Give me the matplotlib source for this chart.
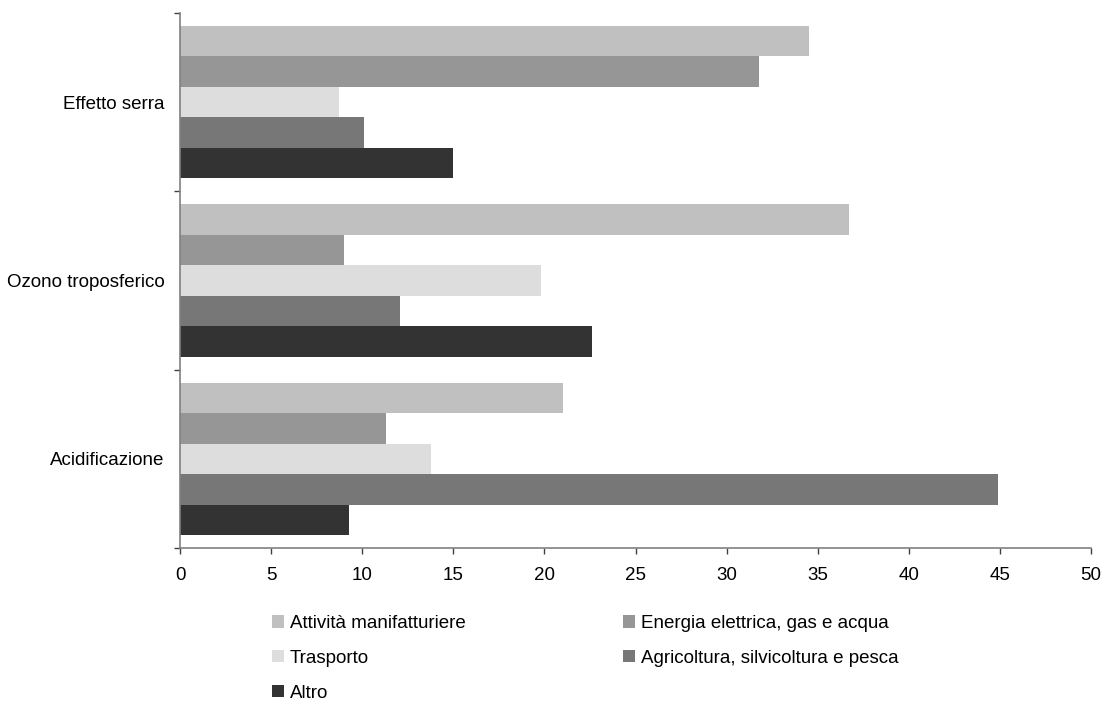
import numpy as np
import matplotlib
matplotlib.use("Agg")
import matplotlib.pyplot as plt

plt.rcParams['font.family'] = ['Liberation Sans', 'DejaVu Sans']

# categories, bottom to top as drawn
categories = ['Acidificazione', 'Ozono troposferico', 'Effetto serra']
series = ['Attività manifatturiere', 'Energia elettrica, gas e acqua',
          'Trasporto', 'Agricoltura, silvicoltura e pesca', 'Altro']
colors = ['#c0c0c0', '#969696', '#dddddd', '#777777', '#333333']

# values per series, same order as categories
attivita = [21.0, 36.7, 34.5]
energia = [11.3, 9.0, 31.8]
trasporto = [13.8, 19.8, 8.7]
agricoltura = [44.9, 12.1, 10.1]
altro = [9.3, 22.6, 15.0]
values = [attivita, energia, trasporto, agricoltura, altro]

xticks = np.arange(0, 51, 5)

fig = plt.figure(figsize=(11.05, 7.04), dpi=100, facecolor='white')
ax = fig.add_axes([180/1105, 1-548/704, (1091-180)/1105, (548-13)/704])

y = np.arange(len(categories))
h = 0.171
offsets = [2*h, h, 0, -h, -2*h]
bars = []
for name, vals, col, off in zip(series, values, colors, offsets):
    b = ax.barh(y + off, vals, height=h, color=col, label=name, linewidth=0)
    bars.append(b)

ax.set_xlim(0, 50)
ax.set_ylim(-0.5, len(categories)-0.5)
ax.set_xticks(xticks)
ax.set_yticks(y)
ax.set_yticklabels(categories)
ax.set_yticks(np.arange(-0.5, len(categories), 1), minor=True)

for s in ['top', 'right']:
    ax.spines[s].set_visible(False)
for s in ['left', 'bottom']:
    ax.spines[s].set_color('#808080')
    ax.spines[s].set_linewidth(1.2)

ax.tick_params(axis='y', which='major', length=0, pad=11, labelsize=13.5)
ax.tick_params(axis='y', which='minor', length=4, color='#404040', width=1)
ax.tick_params(axis='x', length=4, color='#404040', width=1, pad=10, labelsize=13.5)

# legend filled row by row like the original
order = [0, 2, 4, 1, 3]
leg = fig.legend([bars[i] for i in order], [series[i] for i in order],
                 loc='upper left', bbox_to_anchor=(272/1105, 1-615/704),
                 ncol=2, frameon=False, fontsize=13.5, handlelength=0.65,
                 handleheight=0.65, handletextpad=0.3, columnspacing=8.4,
                 labelspacing=0.95, borderpad=0, borderaxespad=0)

fig.savefig('out.png', dpi=100, facecolor='white')
